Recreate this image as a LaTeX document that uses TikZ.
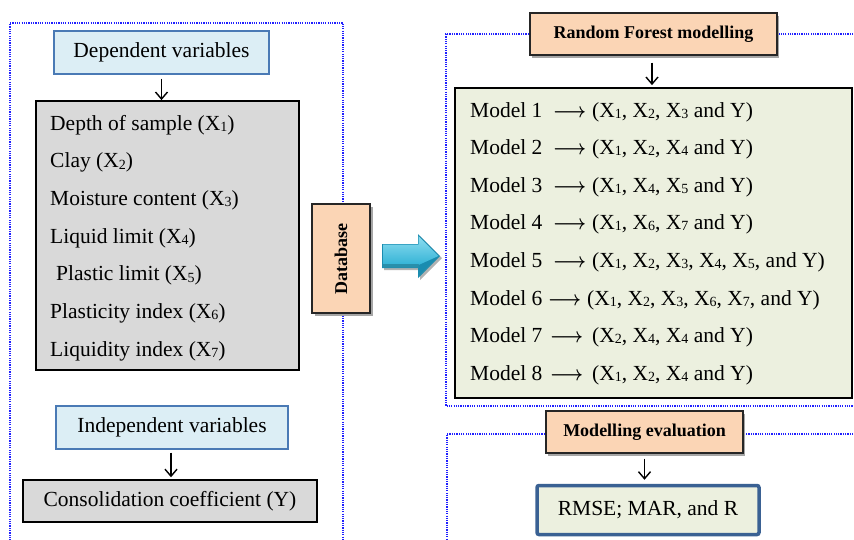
\documentclass[tikz,border=0pt]{standalone}
\usepackage{graphicx}
\usepackage{fontspec}
\setmainfont{Liberation Serif}
\usetikzlibrary{arrows.meta}
\definecolor{frameblue}{HTML}{2020FF}
\definecolor{lightblue}{HTML}{DCEEF5}
\definecolor{boxblue}{HTML}{4A7AB5}
\definecolor{listgray}{HTML}{D9D9D9}
\definecolor{peach}{HTML}{FBD5B5}
\definecolor{olivelight}{HTML}{ECF0DF}
\definecolor{rmseblue}{HTML}{3A6193}
\definecolor{arrowmid}{HTML}{33B3D6}
\definecolor{arrowdark}{HTML}{1A8CB0}
\definecolor{arrowlight}{HTML}{8EDDF0}
\newcommand\rg{\fontsize{21.5}{24}\selectfont}
\newcommand\bd{\fontsize{18}{20}\selectfont\bfseries}
\newcommand\xs[1]{X\raisebox{-1.3pt}{\fontsize{14}{14}\selectfont #1}}
\newcommand\mrow[4]{\makebox[#2][l]{#1}\makebox[#3][l]{\scalebox{0.86}[1]{\boldmath$\longrightarrow$}}#4}
\tikzset{
  frame/.style={frameblue, line width=1.6pt, dash pattern=on 1.2pt off 1.1pt},
  headbox/.style={draw=boxblue, fill=lightblue, line width=1.3pt, inner sep=0pt, font=\rg},
  graybox/.style={draw=black, fill=listgray, line width=1.8pt, inner sep=0pt, font=\rg},
  peachbox/.style={draw=black!85, fill=peach, line width=1.3pt, inner sep=0pt, font=\bd},
  listtext/.style={anchor=base west, inner sep=0pt, font=\rg},
  conn/.style={draw=black, line width=1.4pt, -{Straight Barb[length=7pt,width=12pt,line width=1.4pt]}},
  shadowbox/.style={fill=black!35, draw=none}
}
\begin{document}
\begin{tikzpicture}[x=1pt,y=-1pt]
\useasboundingbox (0,0) rectangle (854,539);
% dotted frames
\draw[frame] (10,545) -- (10,23) -- (343,23) -- (343,545);
\draw[frame] (860,34) -- (446,34) -- (446,406) -- (860,406);
\draw[frame] (860,434) -- (447,434) -- (447,545);

% left column
\node[headbox, minimum width=215pt, minimum height=43pt] (dep) at (161.5,52.5) {Dependent variables};
\node[graybox, minimum width=263pt, minimum height=269pt] (list) at (167.5,235.5) {};
\node[listtext] (l1) at (50,130) {Depth of sample (\xs1)};
\node[listtext] (l2) at (50,167.7) {Clay (\xs2)};
\node[listtext] (l3) at (50,205.4) {Moisture content (\xs3)};
\node[listtext] (l4) at (50,243) {Liquid limit (\xs4)};
\node[listtext] (l5) at (56,280.8) {Plastic limit (\xs5)};
\node[listtext] (l6) at (50,318.5) {Plasticity index (\xs6)};
\node[listtext] (l7) at (50,356.2) {Liquidity index (\xs7)};
\draw[conn, shorten <=4pt] (dep.south) -- (dep.south |- list.north);

\node[headbox, minimum width=232pt, minimum height=43pt] (indep) at (172,427.5) {Independent variables};
\node[graybox, line width=1.5pt, minimum width=294pt, minimum height=42pt] (cons) at (170,501) {Consolidation coefficient (Y)};
\draw[conn, shorten <=3pt, shorten >=2pt] ([xshift=-1pt]indep.south) -- ([xshift=-1pt]indep.south |- cons.north);

% database
\fill[shadowbox] (315,207) rectangle (373,316);
\node[peachbox, minimum width=58pt, minimum height=109pt] (db) at (341,258.5) {};
\node[font=\bd, rotate=90, inner sep=0pt] (dbt) at (db.center) {Database};

% 3D arrow
\fill[black!30] (384,246) -- (420,246) -- (420,236) -- (442,258) -- (420,280) -- (420,270) -- (384,270) -- cycle;
\fill[arrowdark] (382,244) -- (418,244) -- (418,234) -- (440,256) -- (418,278) -- (418,268) -- (382,268) -- cycle;
\shade[top color=arrowlight, bottom color=arrowmid] (383,244.5) -- (418.5,244.5) -- (418.5,236) -- (438.5,256) -- (418.5,265) -- (418.5,264) -- (383,264) -- cycle;
\fill[arrowmid!80!black] (383,264) -- (418.5,264) -- (418.5,276) -- (420,276) -- (438.5,256) -- (418.5,276) -- (418.5,267.5) -- (383,267.5) -- cycle;

% right column
\fill[shadowbox] (532,16) rectangle (779,58);
\node[peachbox, minimum width=247pt, minimum height=42pt] (rf) at (653.5,34) {Random Forest modelling};
\node[draw=black, fill=olivelight, line width=1.8pt, minimum width=397pt, minimum height=310pt, inner sep=0pt] (models) at (653.5,243) {};
\draw[conn, shorten <=7pt, shorten >=2pt] ([xshift=-1.5pt]rf.south) -- ([xshift=-1.5pt]rf.south |- models.north);

\node[listtext] (m1) at (470,117) {\mrow{Model 1}{83pt}{39pt}{(\xs1, \xs2, \xs3 and Y)}};
\node[listtext] (m2) at (470,154.5) {\mrow{Model 2}{83pt}{39pt}{(\xs1, \xs2, \xs4 and Y)}};
\node[listtext] (m3) at (470,192) {\mrow{Model 3}{83pt}{39pt}{(\xs1, \xs4, \xs5 and Y)}};
\node[listtext] (m4) at (470,229.5) {\mrow{Model 4}{83pt}{39pt}{(\xs1, \xs6, \xs7 and Y)}};
\node[listtext] (m5) at (470,267) {\mrow{Model 5}{83pt}{39pt}{(\xs1, \xs2, \xs3, \xs4, \xs5, and Y)}};
\node[listtext] (m6) at (470,305) {\mrow{Model 6}{78pt}{39pt}{(\xs1, \xs2, \xs3, \xs6, \xs7, and Y)}};
\node[listtext] (m7) at (470,342.5) {\mrow{Model 7}{80pt}{42pt}{(\xs2, \xs4, \xs4 and Y)}};
\node[listtext] (m8) at (470,380) {\mrow{Model 8}{80pt}{42pt}{(\xs1, \xs2, \xs4 and Y)}};

\fill[shadowbox] (548,414) rectangle (745,456);
\node[peachbox, minimum width=197pt, minimum height=42pt] (eval) at (644.5,432) {Modelling evaluation};
\node[draw=rmseblue, fill=olivelight, line width=3.5pt, rounded corners=2pt, minimum width=222pt, minimum height=49pt, inner sep=0pt, font=\rg] (rmse) at (648,510) {RMSE; MAR, and R};
\draw[conn, shorten <=5pt, shorten >=4pt] (eval.south) -- (eval.south |- rmse.north);
\end{tikzpicture}
\end{document}
